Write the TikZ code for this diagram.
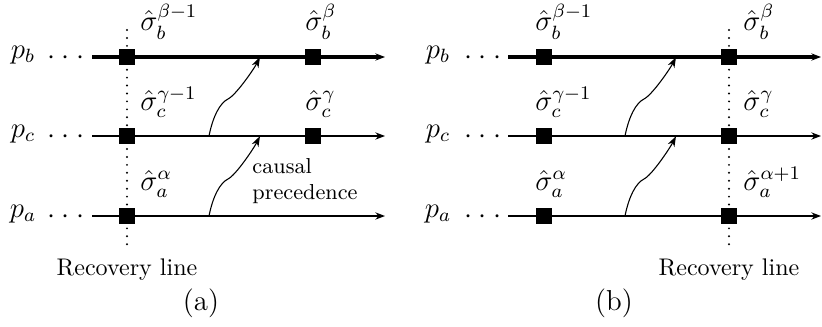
\documentclass[tikz,border=0pt]{standalone}
\usepackage{amsmath, amssymb}
\usetikzlibrary{arrows.meta, positioning}

\begin{document}
\begin{tikzpicture}[x=0.014614cm, y=-0.014614cm,
    ckpt/.style={fill, minimum size=7pt, inner sep=0pt},
    plabel/.style={font=\large, inner sep=0pt},
    slabel/.style={font=\large, anchor=base west, inner sep=0pt},
    proc/.style={line width=0.85pt, -{Stealth[length=4pt, width=3pt]}},
    mainproc/.style={proc, line width=1.3pt},
    recline/.style={line width=0.9pt, line cap=round, dash pattern=on 0pt off 3.3pt},
    prec/.style={line width=0.45pt, -{Stealth[length=4.5pt, width=3pt]}}]
    \useasboundingbox (0,0) rectangle (822,326);
    \newcommand{\tridots}{${\cdot}\hspace{2.7pt}{\cdot}\hspace{2.7pt}{\cdot}$}

    % (a) recovery line before the messages
    \node[plabel] (a-pb) at (23,55) {$p_b$};
    \node[plabel] (a-pc) at (23,134) {$p_c$};
    \node[plabel] (a-pa) at (23,214) {$p_a$};
    \node[plabel, anchor=base] (a-db) at (66,64) {\tridots};
    \node[plabel, anchor=base] (a-dc) at (66,143) {\tridots};
    \node[plabel, anchor=base] (a-da) at (66,223) {\tridots};

    \coordinate (a-rt) at (127,30);
    \coordinate (a-rb) at (127,245);
    \draw[recline] (a-rt) -- (a-rb);
    \node (a-rec) at (127,270) {Recovery line};

    \coordinate (a-bs) at (92,57);
    \coordinate (a-be) at (385,57);
    \coordinate (a-cs) at (92,136);
    \coordinate (a-ce) at (385,136);
    \coordinate (a-as) at (92,216);
    \coordinate (a-ae) at (385,216);
    \draw[mainproc] (a-bs) -- (a-be);
    \draw[proc] (a-cs) -- (a-ce);
    \draw[proc] (a-as) -- (a-ae);

    \node[ckpt] (a-b1) at (127,57) {};
    \node[ckpt] (a-b2) at (313,57) {};
    \node[ckpt] (a-c1) at (127,136) {};
    \node[ckpt] (a-c2) at (313,136) {};
    \node[ckpt] (a-a1) at (127,216) {};

    \node[slabel] (a-sb1) at (140,31) {$\hat{\sigma}_b^{\beta-1}$};
    \node[slabel] (a-sb2) at (305,31) {$\hat{\sigma}_b^{\beta}$};
    \node[slabel] (a-sc1) at (140,110) {$\hat{\sigma}_c^{\gamma-1}$};
    \node[slabel] (a-sc2) at (305,110) {$\hat{\sigma}_c^{\gamma}$};
    \node[slabel] (a-sa1) at (140,190) {$\hat{\sigma}_a^{\alpha}$};

    \coordinate (a-m1s) at (209,136);
    \coordinate (a-m1e) at (260,57);
    \coordinate (a-m2s) at (209,216);
    \coordinate (a-m2e) at (260,136);
    \draw[prec] (a-m1s) .. controls +(4,-20) and +(-8,4) .. +(19,-37)
        .. controls +(8,-4) and +(-6,12) .. (a-m1e);
    \draw[prec] (a-m2s) .. controls +(4,-20) and +(-8,4) .. +(19,-37)
        .. controls +(8,-4) and +(-6,12) .. (a-m2e);
    \node[font=\small, align=left, anchor=west, inner sep=0pt] (a-cp) at (252,181)
        {causal\\precedence};

    \node[font=\large] (a-cap) at (201,303) {(a)};

    % (b) recovery line after the messages
    \node[plabel] (b-pb) at (438,55) {$p_b$};
    \node[plabel] (b-pc) at (438,134) {$p_c$};
    \node[plabel] (b-pa) at (438,214) {$p_a$};
    \node[plabel, anchor=base] (b-db) at (483,64) {\tridots};
    \node[plabel, anchor=base] (b-dc) at (483,143) {\tridots};
    \node[plabel, anchor=base] (b-da) at (483,223) {\tridots};

    \coordinate (b-rt) at (729,30);
    \coordinate (b-rb) at (729,245);
    \draw[recline] (b-rt) -- (b-rb);
    \node (b-rec) at (729,270) {Recovery line};

    \coordinate (b-bs) at (508,57);
    \coordinate (b-be) at (821,57);
    \coordinate (b-cs) at (508,136);
    \coordinate (b-ce) at (821,136);
    \coordinate (b-as) at (508,216);
    \coordinate (b-ae) at (821,216);
    \draw[mainproc] (b-bs) -- (b-be);
    \draw[proc] (b-cs) -- (b-ce);
    \draw[proc] (b-as) -- (b-ae);

    \node[ckpt] (b-b1) at (544,57) {};
    \node[ckpt] (b-b2) at (729,57) {};
    \node[ckpt] (b-c1) at (544,136) {};
    \node[ckpt] (b-c2) at (729,136) {};
    \node[ckpt] (b-a1) at (544,216) {};
    \node[ckpt] (b-a2) at (729,216) {};

    \node[slabel] (b-sb1) at (535,31) {$\hat{\sigma}_b^{\beta-1}$};
    \node[slabel] (b-sb2) at (743,31) {$\hat{\sigma}_b^{\beta}$};
    \node[slabel] (b-sc1) at (535,110) {$\hat{\sigma}_c^{\gamma-1}$};
    \node[slabel] (b-sc2) at (743,110) {$\hat{\sigma}_c^{\gamma}$};
    \node[slabel] (b-sa1) at (535,190) {$\hat{\sigma}_a^{\alpha}$};
    \node[slabel] (b-sa2) at (743,190) {$\hat{\sigma}_a^{\alpha+1}$};

    \coordinate (b-m1s) at (625,136);
    \coordinate (b-m1e) at (676,57);
    \coordinate (b-m2s) at (625,216);
    \coordinate (b-m2e) at (676,136);
    \draw[prec] (b-m1s) .. controls +(4,-20) and +(-8,4) .. +(19,-37)
        .. controls +(8,-4) and +(-6,12) .. (b-m1e);
    \draw[prec] (b-m2s) .. controls +(4,-20) and +(-8,4) .. +(19,-37)
        .. controls +(8,-4) and +(-6,12) .. (b-m2e);

    \node[font=\large] (b-cap) at (614,303) {(b)};
\end{tikzpicture}
\end{document}
